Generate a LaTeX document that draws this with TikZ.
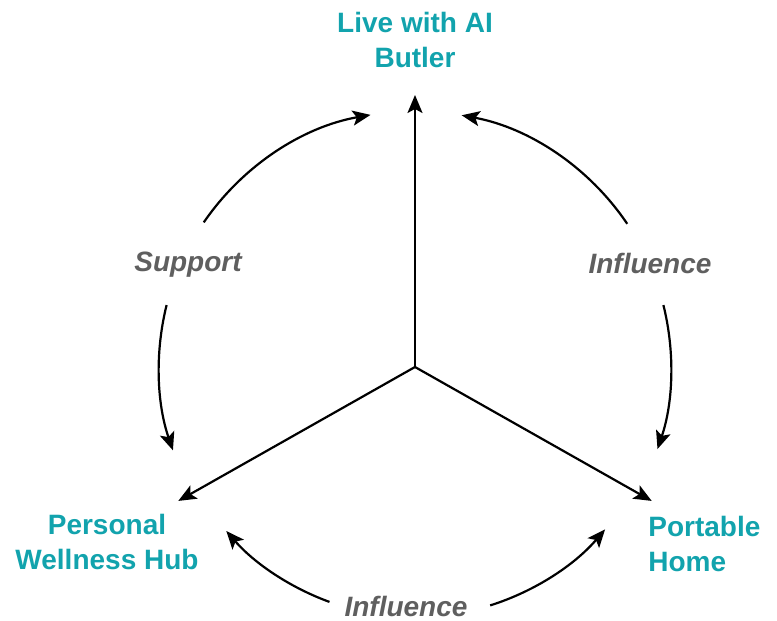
\documentclass[tikz,border=0pt]{standalone}
\usepackage{fontspec}
\setmainfont{Liberation Sans}
\usetikzlibrary{arrows.meta}
\definecolor{teal1}{RGB}{18,163,173}
\definecolor{gray1}{RGB}{95,95,95}
\begin{document}
\begin{tikzpicture}[x=0.5pt,y=0.5pt,
  arr/.style={line width=1.1pt,-{Stealth[length=9pt,width=7.5pt,inset=2pt]}},
  hub/.style={text=teal1,font=\fontsize{14}{17.5}\selectfont\bfseries,align=center,inner sep=0pt},
  rel/.style={text=gray1,font=\fontsize{14}{17}\selectfont\bfseries\itshape,inner sep=0pt}]
\useasboundingbox (0,0) rectangle (777,621);
\coordinate (C) at (415,254);
\node[hub] (top) at (415,581) {Live with AI\\Butler};
\node[hub] (left) at (107,79) {Personal\\Wellness Hub};
\node[hub,align=left,anchor=west] (right) at (648,77) {Portable\\Home};
\node[rel] (sup) at (188,356) {Support};
\node[rel] (infr) at (650,358) {Influence};
\node[rel] (infb) at (406,15) {Influence};
\path (C) ++(90:136pt) coordinate (tT);
\path (C) ++(209.5:136pt) coordinate (tL);
\path (C) ++(330.5:136pt) coordinate (tR);
\draw[arr] (C) -- (tT);
\draw[arr] (C) -- (tL);
\draw[arr] (C) -- (tR);
% Support arcs
\draw[arr] (C) ++(145.6:128pt) arc[start angle=145.6,end angle=100,radius=128pt];
\draw[arr] (C) ++(166:128pt) arc[start angle=166,end angle=199,radius=128pt];
% right Influence arcs
\draw[arr] (C) ++(34:128pt) arc[start angle=34,end angle=79.5,radius=128pt];
\draw[arr] (C) ++(14:128pt) arc[start angle=14,end angle=-18.7,radius=128pt];
% bottom Influence arcs
\draw[arr] (C) ++(250:125pt) arc[start angle=250,end angle=221,radius=125pt];
\draw[arr] (C) ++(287.5:125pt) arc[start angle=287.5,end angle=319.5,radius=125pt];
\end{tikzpicture}
\end{document}
